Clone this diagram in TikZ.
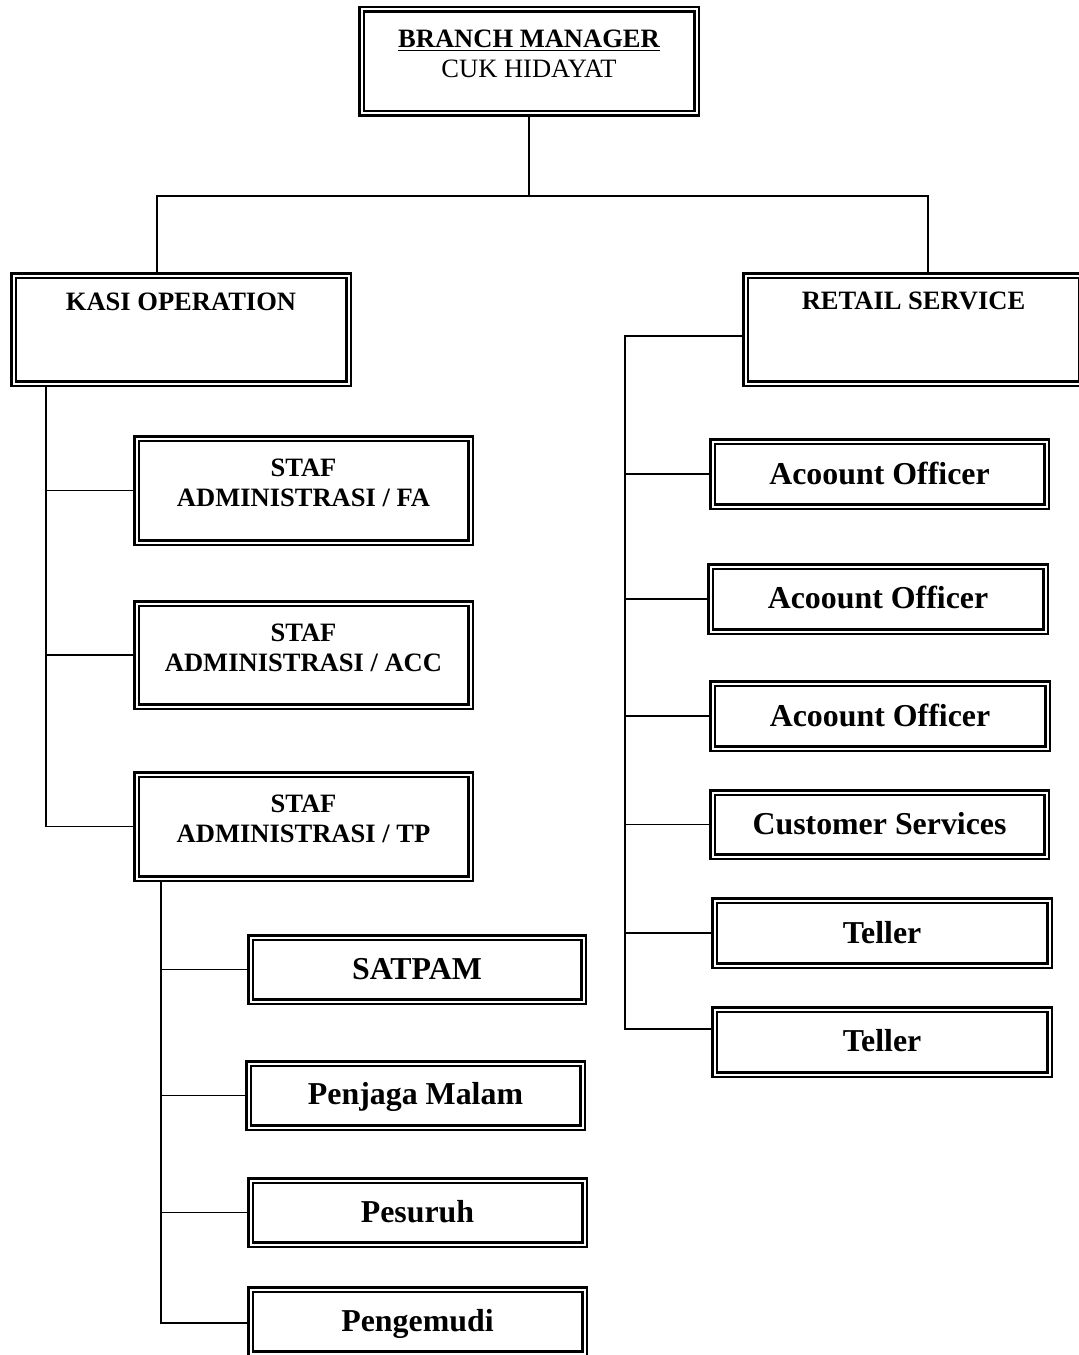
\documentclass[tikz,border=0pt]{standalone}
\usepackage{fontspec}
\setmainfont{Liberation Serif}
\usetikzlibrary{fit,backgrounds}
\newcommand\smallf{\fontsize{19.9}{23}\selectfont}
\newcommand\bigf{\fontsize{23.9}{28}\selectfont\bfseries}
\tikzset{
  orgbox/.style={draw, line width=1.85pt, double=white, double distance=1.5pt, inner sep=0pt},
  lbl/.style={anchor=base, inner sep=0pt},
  conn/.style={line width=1.2pt},
}
\newcommand\mkbox[5]{\node[orgbox, fit={(#2+3.5,#3+3.5) (#4-3.5,#5-3.5)}] (#1) {};}
\begin{document}
\begin{tikzpicture}[x=0.75pt,y=-0.75pt]
\useasboundingbox (0,0) rectangle (1078,1355);
% boxes
\mkbox{bm}{358}{6}{700}{117}
\mkbox{kasi}{10}{272}{352}{387}
\mkbox{retail}{742}{272}{1085}{387}
\mkbox{fa}{133}{435}{474}{546}
\mkbox{acc}{133}{600}{474}{710}
\mkbox{tp}{133}{771}{474}{882}
\mkbox{sat}{247}{934}{587}{1005}
\mkbox{pm}{245}{1060}{586}{1131}
\mkbox{pes}{247}{1177}{588}{1248}
\mkbox{pen}{247}{1286}{588}{1357}
\mkbox{ao1}{709}{438}{1050}{510}
\mkbox{ao2}{707}{563}{1049}{635}
\mkbox{ao3}{709}{680}{1051}{752}
\mkbox{cs}{709}{789}{1050}{860}
\mkbox{t1}{711}{897}{1053}{969}
\mkbox{t2}{711}{1006}{1053}{1078}
% texts
\node[lbl] (bm-a) at (bm.center |- 0,48) {\smallf\bfseries\underline{BRANCH MANAGER}};
\node[lbl] (bm-b) at (bm.center |- 0,78) {\smallf CUK HIDAYAT};
\node[lbl] (kasi-a) at (kasi.center |- 0,310) {\smallf\bfseries KASI OPERATION};
\node[lbl] (retail-a) at (retail.center |- 0,309) {\smallf\bfseries RETAIL SERVICE};
\node[lbl] (fa-a) at (fa.center |- 0,476) {\smallf\bfseries STAF};
\node[lbl] (fa-b) at (fa.center |- 0,506) {\smallf\bfseries ADMINISTRASI / FA};
\node[lbl] (acc-a) at (acc.center |- 0,641) {\smallf\bfseries STAF};
\node[lbl] (acc-b) at (acc.center |- 0,671) {\smallf\bfseries ADMINISTRASI / ACC};
\node[lbl] (tp-a) at (tp.center |- 0,812) {\smallf\bfseries STAF};
\node[lbl] (tp-b) at (tp.center |- 0,842) {\smallf\bfseries ADMINISTRASI / TP};
\node[lbl] (sat-a) at (sat.center |- 0,979) {\bigf SATPAM};
\node[lbl] (pm-a) at (pm.center |- 0,1104) {\bigf Penjaga Malam};
\node[lbl] (pes-a) at (pes.center |- 0,1222) {\bigf Pesuruh};
\node[lbl] (pen-a) at (pen.center |- 0,1331) {\bigf Pengemudi};
\node[lbl] (ao1-a) at (ao1.center |- 0,484) {\bigf Acoount Officer};
\node[lbl] (ao2-a) at (ao2.center |- 0,608) {\bigf Acoount Officer};
\node[lbl] (ao3-a) at (ao3.center |- 0,726) {\bigf Acoount Officer};
\node[lbl] (cs-a) at (cs.center |- 0,834) {\bigf Customer Services};
\node[lbl] (t1-a) at (t1.center |- 0,943) {\bigf Teller};
\node[lbl] (t2-a) at (t2.center |- 0,1051) {\bigf Teller};
% connectors
\coordinate (jl) at (157,196);
\coordinate (jr) at (928,196);
\coordinate (ls) at (46,823);
\coordinate (bs) at (161,1323);
\coordinate (rt) at (625,336);
\coordinate (rb) at (625,1029);
\begin{scope}[on background layer]
\fill[white] (0,0) rectangle (1078,1355);
\draw[conn] (bm.south) -- (bm.south |- jl);
\draw[conn] (jl |- kasi.north) -- (jl) -- (jr) -- (jr |- retail.north);
\draw[conn] (ls |- kasi.south) -- (ls |- tp.west) -- (tp.west);
\draw[conn] (ls |- fa.west) -- (fa.west);
\draw[conn] (ls |- acc.west) -- (acc.west);
\draw[conn] (bs |- tp.south) -- (bs) -- (bs -| pen.west);
\draw[conn] (bs |- sat.west) -- (sat.west);
\draw[conn] (bs |- pm.west) -- (pm.west);
\draw[conn] (bs |- pes.west) -- (pes.west);
\draw[conn] (rt -| retail.west) -- (rt) -- (rb) -- (rb -| t2.west);
\draw[conn] (rt |- ao1.west) -- (ao1.west);
\draw[conn] (rt |- ao2.west) -- (ao2.west);
\draw[conn] (rt |- ao3.west) -- (ao3.west);
\draw[conn] (rt |- cs.west) -- (cs.west);
\draw[conn] (rt |- t1.west) -- (t1.west);
\end{scope}
\end{tikzpicture}
\end{document}
